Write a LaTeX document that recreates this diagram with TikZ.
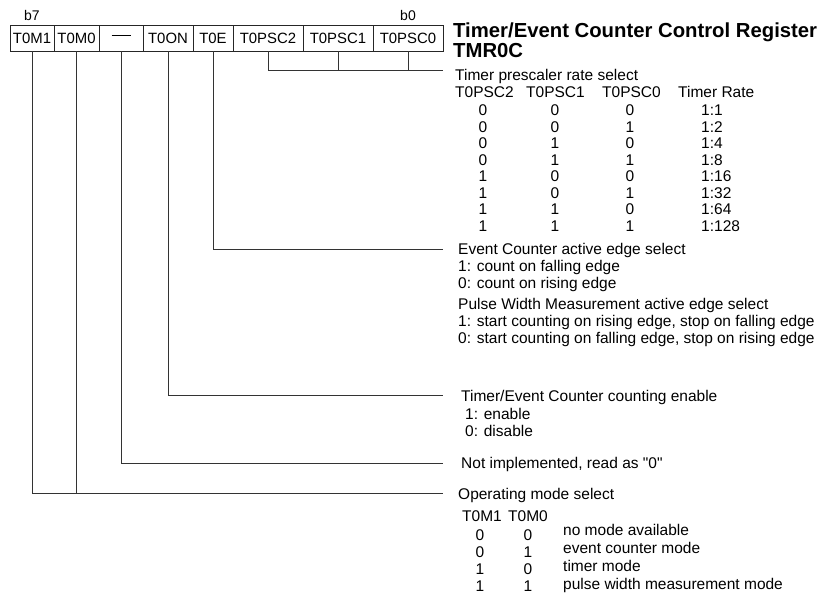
\documentclass[tikz,border=0pt]{standalone}
\usepackage{fontspec}
\setmainfont{Liberation Sans}
\newcommand{\straightquote}{\XeTeXglyph\XeTeXcharglyph"22\relax}
\begin{document}
\begin{tikzpicture}[x=1pt,y=-1pt,
  cell/.style={draw=black!85, line width=0.9pt, minimum height=26pt, inner sep=0pt, font=\fontsize{14.9}{15}\selectfont},
  wire/.style={draw=black!80, line width=0.9pt},
  txt/.style={anchor=west, inner sep=0pt, text height=11pt, text depth=0pt, font=\fontsize{15.5}{16}\selectfont},
  ctxt/.style={anchor=center, inner sep=0pt, text height=11pt, text depth=0pt, font=\fontsize{15.5}{16}\selectfont},
  ttl/.style={anchor=base west, inner sep=0pt, font=\fontsize{20.3}{21}\selectfont\bfseries},
  bit/.style={anchor=center, inner sep=0pt, font=\fontsize{14}{14}\selectfont}]
\useasboundingbox (0,0) rectangle (825,594);
% register cells
\node[cell, minimum width=44pt] (c1) at (32,38) {T0M1};
\node[cell, minimum width=45pt] (c2) at (76.5,38) {T0M0};
\node[cell, minimum width=44pt] (c3) at (121,38) {\rule[4.6pt]{19pt}{0.9pt}};
\node[cell, minimum width=50pt] (c4) at (168,38) {T0ON};
\node[cell, minimum width=40pt] (c5) at (213,38) {T0E};
\node[cell, minimum width=70pt] (c6) at (268,38) {T0PSC2};
\node[cell, minimum width=70pt] (c7) at (338,38) {T0PSC1};
\node[cell, minimum width=70pt] (c8) at (408,38) {T0PSC0};
\node[bit] (b7) at (32,15) {b7};
\node[bit] (b0) at (408,15) {b0};
% title
\node[ttl] (t1) at (453,38) {Timer/Event Counter Control Register};
\node[ttl] (t2) at (453,58) {TMR0C};
% connector end points
\coordinate (ePSC) at (443,70);
\coordinate (eE) at (443,249);
\coordinate (eON) at (443,395);
\coordinate (eNI) at (443,463);
\coordinate (eM) at (443,493);
\coordinate (jP) at (268,70);
\coordinate (jM) at (76.5,493);
% connectors
\draw[wire] (c6.south) -- (jP) -- (ePSC);
\draw[wire] (c7.south) -- (c7.south |- ePSC);
\draw[wire] (c8.south) -- (c8.south |- ePSC);
\draw[wire] (c5.south) |- (eE);
\draw[wire] (c4.south) |- (eON);
\draw[wire] (c3.south) |- (eNI);
\draw[wire] (c1.south) |- (eM);
\draw[wire] (c2.south) -- (jM);
% prescaler block
\node[txt] (p0) at (455,75) {Timer prescaler rate select};
\node[txt] (ph1) at (455,92) {T0PSC2};
\node[txt] (ph2) at (526,92) {T0PSC1};
\node[txt] (ph3) at (602,92) {T0PSC0};
\node[txt] (ph4) at (678,92) {Timer Rate};
\foreach \a/\b/\c/\r [count=\i from 0] in {0/0/0/1:1,0/0/1/1:2,0/1/0/1:4,0/1/1/1:8,1/0/0/1:16,1/0/1/1:32,1/1/0/1:64,1/1/1/1:128}{
  \node[ctxt] (pa\i) at (483,110+16.5*\i) {\a};
  \node[ctxt] (pb\i) at (555,110+16.5*\i) {\b};
  \node[ctxt] (pc\i) at (630,110+16.5*\i) {\c};
  \node[txt] (pr\i) at (701,110+16.5*\i) {\r};
}
% event counter block
\node[txt] (e0) at (458,249) {Event Counter active edge select};
\node[txt] (e1) at (458,266) {1: count on falling edge};
\node[txt] (e2) at (458,283) {0: count on rising edge};
\node[txt] (w0) at (458,304) {Pulse Width Measurement active edge select};
\node[txt] (w1) at (458,321) {1: start counting on rising edge, stop on falling edge};
\node[txt] (w2) at (458,338) {0: start counting on falling edge, stop on rising edge};
% enable block
\node[txt] (n0) at (461,396) {Timer/Event Counter counting enable};
\node[txt] (n1) at (465,414) {1: enable};
\node[txt] (n2) at (465,431) {0: disable};
\node[txt] (ni) at (461,463) {Not implemented, read as \straightquote 0\straightquote};
% operating mode block
\node[txt] (m0) at (458,494) {Operating mode select};
\node[txt] (mh1) at (462,516) {T0M1};
\node[txt] (mh2) at (508,516) {T0M0};
\foreach \a/\b/\d [count=\i from 0] in {0/0/no mode available,0/1/event counter mode,1/0/timer mode,1/1/pulse width measurement mode}{
  \node[ctxt] (ma\i) at (480,535+17*\i) {\a};
  \node[ctxt] (mb\i) at (528,535+17*\i) {\b};
  \node[txt] (md\i) at (563,530+18*\i) {\d};
}
\end{tikzpicture}
\end{document}
